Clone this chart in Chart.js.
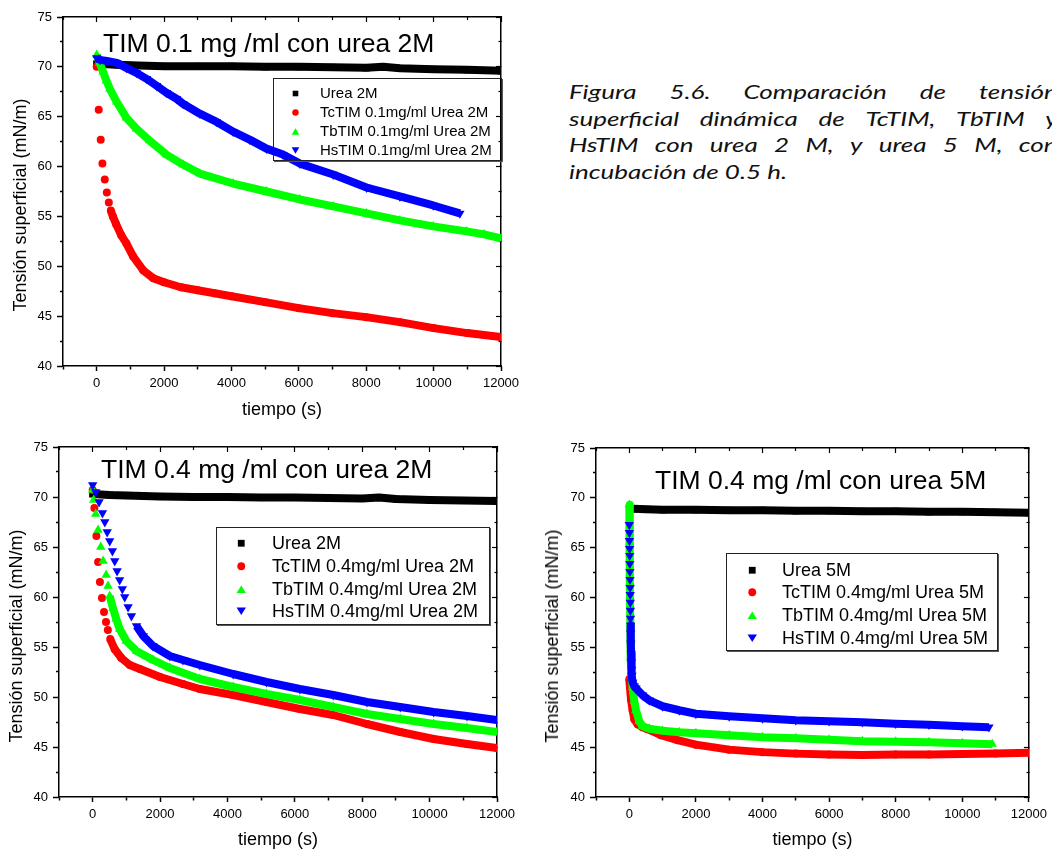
<!DOCTYPE html>
<html>
<head>
<meta charset="utf-8">
<script src="https://cdn.jsdelivr.net/npm/chart.js@4.4.1/dist/chart.umd.min.js"></script>
<style>
html,body{margin:0;padding:0;background:#fff;}
body{width:1052px;height:850px;overflow:hidden;position:relative;font-family:"Liberation Sans",Arial,Helvetica,sans-serif;color:#000;}
canvas{position:absolute;}
.ttl{position:absolute;font-size:26.5px;line-height:26px;white-space:nowrap;}
.ylab{position:absolute;font-size:18px;line-height:18px;white-space:nowrap;transform:translate(-50%,-50%) rotate(-90deg);}
.leg{position:absolute;border:1px solid #222;box-shadow:1px 1px 0 #555;box-sizing:border-box;}
.row{position:absolute;left:0;white-space:nowrap;}
.row svg{position:absolute;}
.row span{position:absolute;}
.cap{position:absolute;left:569px;font-family:Lato,"Open Sans",sans-serif;font-style:italic;font-weight:400;font-size:20px;line-height:26.67px;height:26.67px;white-space:nowrap;transform-origin:0 0;transform:scaleX(1.3);color:#111;}
.flex{display:flex;justify-content:space-between;width:376px;}
</style>
</head>
<body>

<div class="cap flex" style="top:78px"><span>Figura</span><span>5.6.</span><span>Comparación</span><span>de</span><span>tensión</span></div>
<div class="cap flex" style="top:104.7px"><span>superficial</span><span>dinámica</span><span>de</span><span>TcTIM,</span><span>TbTIM</span><span>y</span></div>
<div class="cap flex" style="top:131.3px"><span>HsTIM</span><span>con</span><span>urea</span><span>2</span><span>M,</span><span>y</span><span>urea</span><span>5</span><span>M,</span><span>con</span></div>
<div class="cap" style="top:158px">incubación de 0.5 h.</div>

<canvas id="c1" width="530" height="425" style="left:0;top:0"></canvas>
<canvas id="c2" width="530" height="425" style="left:0;top:430px"></canvas>
<canvas id="c3" width="522" height="425" style="left:530px;top:430px"></canvas>

<div class="ttl" style="left:103px;top:29.8px">TIM 0.1 mg /ml con urea 2M</div>
<div class="ttl" style="left:101px;top:455.8px">TIM 0.4 mg /ml con urea 2M</div>
<div class="ttl" style="left:655px;top:466.8px">TIM 0.4 mg /ml con urea 5M</div>

<div class="ylab" style="left:20px;top:205px">Tensión superficial (mN/m)</div>
<div class="ylab" style="left:15.5px;top:636px">Tensión superficial (mN/m)</div>
<div class="ylab" style="left:551.5px;top:636px">Tensión superficial (mN/m)</div>

<script>
// ---------------- DATA ----------------
const xTickLabels = [0, 2000, 4000, 6000, 8000, 10000, 12000];
const yTickLabels = [40, 45, 50, 55, 60, 65, 70, 75];
const xTitle = 'tiempo (s)';

// Chart 1: TIM 0.1 mg/ml con urea 2M
const c1_labels = ['Urea 2M', 'TcTIM 0.1mg/ml Urea 2M', 'TbTIM 0.1mg/ml Urea 2M', 'HsTIM 0.1mg/ml Urea 2M'];
const c1_urea_t = [0, 300, 600, 1000, 2000, 3000, 4000, 5000, 6000, 7000, 8000, 8500, 9000, 10000, 11000, 12000];
const c1_urea_v = [70.3, 70.25, 70.2, 70.15, 70.05, 70.05, 70.05, 70.0, 70.0, 69.95, 69.9, 70.0, 69.85, 69.75, 69.7, 69.6];
const c1_tc_t = [0, 60, 120, 170, 240, 300, 360, 420, 480, 580, 730, 880, 1080, 1380, 1680, 2000, 2500, 3000, 3500, 4000, 5000, 6000, 7000, 8000, 9000, 10000, 11000, 12000];
const c1_tc_v = [70.0, 65.7, 62.7, 60.3, 58.7, 57.4, 56.4, 55.6, 55.0, 54.2, 53.1, 52.3, 51.0, 49.6, 48.8, 48.4, 47.9, 47.6, 47.3, 47.0, 46.4, 45.8, 45.3, 44.9, 44.4, 43.8, 43.3, 42.9];
const c1_tb_t = [0, 90, 190, 290, 390, 590, 880, 1180, 1570, 2070, 2560, 3060, 4050, 5040, 6030, 7020, 8010, 9000, 9990, 10980, 11500, 12000];
const c1_tb_v = [71.2, 70.4, 69.5, 68.6, 67.8, 66.5, 64.9, 63.8, 62.6, 61.2, 60.2, 59.3, 58.3, 57.5, 56.7, 56.0, 55.3, 54.6, 54.0, 53.5, 53.2, 52.8];
const c1_hs_t = [0, 100, 300, 600, 880, 1180, 1480, 1780, 2070, 2370, 2560, 3060, 3550, 4050, 4540, 5040, 5530, 6030, 7020, 8010, 9000, 9990, 10780];
const c1_hs_v = [70.9, 70.7, 70.6, 70.4, 69.9, 69.4, 68.8, 68.1, 67.4, 66.8, 66.3, 65.3, 64.5, 63.5, 62.7, 61.8, 61.2, 60.3, 59.2, 57.9, 57.0, 56.1, 55.3];

// Chart 2: TIM 0.4 mg/ml con urea 2M
const c2_labels = ['Urea 2M', 'TcTIM 0.4mg/ml Urea 2M', 'TbTIM 0.4mg/ml Urea 2M', 'HsTIM 0.4mg/ml Urea 2M'];
const c2_urea_t = [0, 500, 1000, 2000, 3000, 4000, 5000, 6000, 7000, 8000, 8500, 9000, 10000, 11000, 12000];
const c2_urea_v = [70.3, 70.2, 70.15, 70.05, 70.0, 70.0, 69.95, 69.95, 69.9, 69.85, 69.95, 69.8, 69.7, 69.65, 69.6];
const c2_tc_t = [0, 50, 110, 160, 215, 275, 335, 395, 450, 520, 650, 850, 1100, 1400, 2000, 2680, 3180, 4170, 5160, 6150, 7140, 8140, 9130, 10120, 11110, 12000];
const c2_tc_v = [70.7, 68.9, 66.1, 63.5, 61.5, 59.9, 58.5, 57.5, 56.7, 55.8, 54.8, 53.9, 53.2, 52.8, 52.0, 51.3, 50.8, 50.2, 49.5, 48.8, 48.2, 47.3, 46.5, 45.8, 45.3, 44.9];
const c2_tb_t = [0, 30, 90, 160, 240, 310, 400, 455, 505, 600, 700, 800, 1000, 1300, 1790, 2290, 3180, 4170, 5160, 6150, 7140, 8140, 9130, 10120, 11110, 12000];
const c2_tb_v = [70.7, 69.7, 68.3, 66.7, 65.0, 63.6, 62.2, 61.1, 60.1, 58.9, 57.8, 56.8, 55.6, 54.6, 53.7, 52.9, 51.8, 51.0, 50.3, 49.7, 49.0, 48.3, 47.8, 47.3, 46.9, 46.5];
const c2_hs_t = [0, 90, 190, 290, 360, 430, 505, 585, 655, 725, 800, 880, 950, 1050, 1150, 1300, 1500, 1790, 2290, 2680, 3180, 4170, 5160, 6150, 7140, 8140, 9130, 10120, 11110, 12000];
const c2_hs_v = [71.2, 70.5, 69.5, 68.4, 67.5, 66.5, 65.6, 64.6, 63.6, 62.6, 61.7, 60.8, 60.0, 59.0, 58.1, 57.1, 56.1, 55.1, 54.1, 53.7, 53.2, 52.3, 51.5, 50.8, 50.2, 49.5, 49.0, 48.5, 48.1, 47.7];

// Chart 3: TIM 0.4 mg/ml con urea 5M
const c3_labels = ['Urea 5M', 'TcTIM 0.4mg/ml Urea 5M', 'TbTIM 0.4mg/ml Urea 5M', 'HsTIM 0.4mg/ml Urea 5M'];
const c3_urea_t = [130, 500, 1000, 2000, 3000, 4000, 5000, 6000, 7000, 8000, 9000, 10000, 11000, 12000];
const c3_urea_v = [68.9, 68.85, 68.8, 68.8, 68.75, 68.75, 68.7, 68.7, 68.65, 68.65, 68.6, 68.6, 68.55, 68.5];
const c3_tc_t = [0, 20, 50, 100, 150, 250, 400, 550, 950, 1450, 2000, 3000, 4000, 5000, 6000, 7000, 8000, 9000, 10000, 11000, 12000];
const c3_tc_v = [51.8, 51.0, 49.8, 48.7, 47.8, 47.3, 47.0, 46.8, 46.2, 45.7, 45.25, 44.75, 44.5, 44.35, 44.25, 44.2, 44.25, 44.25, 44.3, 44.35, 44.45];
const c3_tb_t = [0, 10, 20, 30, 40, 60, 100, 150, 200, 300, 400, 600, 1000, 1500, 2000, 3000, 4000, 5000, 6000, 7000, 8000, 9000, 10000, 10900];
const c3_tb_v = [69.3, 65.5, 61.5, 57.5, 54.0, 52.5, 51.0, 49.6, 48.7, 47.6, 47.1, 46.85, 46.65, 46.5, 46.4, 46.2, 46.0, 45.9, 45.75, 45.6, 45.55, 45.5, 45.4, 45.3];
const c3_hs_t = [0, 3, 6, 9, 12, 15, 18, 21, 24, 27, 30, 33, 36, 39, 42, 48, 54, 60, 70, 80, 100, 150, 200, 400, 600, 1000, 1500, 2000, 3000, 4000, 5000, 6000, 7000, 8000, 9000, 10000, 10800];
const c3_hs_v = [67.3, 66.5, 65.7, 64.9, 64.2, 63.4, 62.6, 61.8, 61.0, 60.3, 59.5, 58.7, 57.9, 57.2, 56.4, 55.4, 54.4, 53.5, 52.8, 52.2, 51.5, 51.1, 50.9, 50.2, 49.7, 49.1, 48.7, 48.35, 48.1, 47.9, 47.7, 47.6, 47.5, 47.35, 47.25, 47.1, 47.0];

// ---------------- STYLE ----------------
const FONT = '"Liberation Sans", Arial, Helvetica, sans-serif';
const COLORS = ['#000000', '#ff0000', '#00ff00', '#0000ff'];
const STYLES = [
  {name: 'rect', rot: 0, r: 5.0},
  {name: 'circle', rot: 0, r: 4.0},
  {name: 'triangle', rot: 0, r: 5.4},
  {name: 'triangle', rot: 180, r: 5.4}
];

function dataset(i, label, t, v, sep) {
  return {
    label,
    data: t.map((x, k) => ({x, y: v[k]})),
    xAxisID: 'x', yAxisID: 'y',
    showLine: true,
    borderColor: COLORS[i],
    backgroundColor: COLORS[i],
    borderWidth: 8,
    borderJoinStyle: 'round',
    tension: 0,
    pointStyle: STYLES[i].name,
    pointRotation: STYLES[i].rot,
    pointRadius: STYLES[i].r,
    pointHoverRadius: STYLES[i].r,
    pointBorderWidth: 0,
    pointBackgroundColor: COLORS[i],
    order: 4 - i,
    segment: {borderColor: ctx => (ctx.p1DataIndex <= sep ? 'rgba(0,0,0,0)' : undefined)}
  };
}

function makeChart(id, datasets, lay) {
  const tickFont = {family: FONT, size: 13};
  const majX = c => c.tick && xTickLabels.includes(c.tick.value);
  const majY = c => c.tick && yTickLabels.includes(c.tick.value);
  new Chart(document.getElementById(id), {
    type: 'scatter',
    data: {datasets},
    options: {
      responsive: false, animation: false, devicePixelRatio: 1, events: [],
      layout: {padding: {left: 0, top: lay.top, right: lay.right, bottom: 0}},
      plugins: {legend: {display: false}, tooltip: {enabled: false}},
      scales: {
        x: {
          type: 'linear', position: 'bottom', min: -1000, max: 12000,
          afterFit: s => { s.height = lay.xH; },
          border: {display: true, color: '#000', width: 1.5},
          grid: {drawOnChartArea: false, drawTicks: true, tickLength: 5, color: '#000', tickColor: '#000', tickWidth: 1.5,
                 tickBorderDash: c => (majX(c) ? [] : [3, 100])},
          ticks: {stepSize: 1000, autoSkip: false, maxRotation: 0, padding: 5, color: '#000', font: tickFont,
                  callback: v => (xTickLabels.includes(v) ? String(v) : '')},
          title: {display: true, text: xTitle, color: '#000', font: {family: FONT, size: 18}, padding: {top: 0, bottom: 4}}
        },
        x2: {
          type: 'linear', position: 'top', min: -1000, max: 12000,
          afterFit: s => { s.height = 0; },
          border: {display: true, color: '#000', width: 1.5},
          grid: {drawOnChartArea: false, drawTicks: true, tickLength: -5, color: '#000', tickWidth: 1.2,
                 tickBorderDash: c => (majX(c) ? [] : [0, 2, 3, 100])},
          ticks: {display: false, stepSize: 1000, autoSkip: false}
        },
        y: {
          type: 'linear', position: 'left', min: 40, max: 75,
          afterFit: s => { s.width = lay.yW; },
          border: {display: true, color: '#000', width: 1.5},
          grid: {drawOnChartArea: false, drawTicks: true, tickLength: 6, color: '#000', tickWidth: 1.5,
                 tickBorderDash: c => (majY(c) ? [] : [0, 3, 3, 100])},
          ticks: {stepSize: 2.5, autoSkip: false, padding: 5, color: '#000', font: tickFont,
                  callback: v => (yTickLabels.includes(v) ? String(v) : '')}
        },
        y2: {
          type: 'linear', position: 'right', min: 40, max: 75,
          afterFit: s => { s.width = 0; },
          border: {display: true, color: '#000', width: 1.5},
          grid: {drawOnChartArea: false, drawTicks: true, tickLength: -5, color: '#000', tickWidth: 1.2,
                 tickBorderDash: c => (majY(c) ? [] : [3, 100])},
          ticks: {display: false, stepSize: 2.5, autoSkip: false}
        }
      }
    }
  });
}

function markerShape(i, s, cx, cy) {
  const c = COLORS[i];
  if (i === 0) { const q = s * 0.8; return `<rect x="${cx - q / 2}" y="${cy - q / 2}" width="${q}" height="${q}" fill="${c}"/>`; }
  if (i === 1) { return `<circle cx="${cx}" cy="${cy}" r="${s * 0.46}" fill="${c}"/>`; }
  const hw = s * 0.55, hh = s * 0.45;
  if (i === 2) { return `<polygon points="${cx},${cy - hh} ${cx + hw},${cy + hh} ${cx - hw},${cy + hh}" fill="${c}"/>`; }
  return `<polygon points="${cx - hw},${cy - hh} ${cx + hw},${cy - hh} ${cx},${cy + hh}" fill="${c}"/>`;
}

function makeLegend(labels, spec) {
  const box = document.createElement('div');
  box.className = 'leg';
  Object.assign(box.style, {left: spec.left + 'px', top: spec.top + 'px', width: spec.w + 'px', height: spec.h + 'px'});
  labels.forEach((lab, i) => {
    const row = document.createElement('div');
    row.className = 'row';
    const lh = spec.font * 1.25;
    Object.assign(row.style, {top: (spec.rows[i] - lh / 2 - 1) + 'px', height: lh + 'px', width: '100%'});
    const w = spec.ms + 2;
    row.innerHTML = `<svg style="left:${spec.mx - w / 2 - 1}px;top:${lh / 2 - w / 2}px" width="${w}" height="${w}">${markerShape(i, spec.ms, w / 2, w / 2)}</svg>` +
      `<span style="left:${spec.tx - 1}px;top:0;font-size:${spec.font}px;line-height:${lh}px">${lab}</span>`;
    box.appendChild(row);
  });
  document.body.appendChild(box);
}

// ---------------- BUILD ----------------
makeChart('c1', [
  dataset(0, c1_labels[0], c1_urea_t, c1_urea_v, 0),
  dataset(1, c1_labels[1], c1_tc_t, c1_tc_v, 7),
  dataset(2, c1_labels[2], c1_tb_t, c1_tb_v, 0),
  dataset(3, c1_labels[3], c1_hs_t, c1_hs_v, 0)
], {top: 17, right: 29, yW: 63, xH: 59});

makeChart('c2', [
  dataset(0, c2_labels[0], c2_urea_t, c2_urea_v, 0),
  dataset(1, c2_labels[1], c2_tc_t, c2_tc_v, 9),
  dataset(2, c2_labels[2], c2_tb_t, c2_tb_v, 8),
  dataset(3, c2_labels[3], c2_hs_t, c2_hs_v, 15)
], {top: 17, right: 33, yW: 59, xH: 58});

makeChart('c3', [
  dataset(0, c3_labels[0], c3_urea_t, c3_urea_v, 0),
  dataset(1, c3_labels[1], c3_tc_t, c3_tc_v, 0),
  dataset(2, c3_labels[2], c3_tb_t, c3_tb_v, 0),
  dataset(3, c3_labels[3], c3_hs_t, c3_hs_v, 13)
], {top: 18, right: 19, yW: 66, xH: 58});

makeLegend(c1_labels, {left: 273, top: 78, w: 229, h: 83, rows: [15, 34, 53, 72], mx: 22, tx: 47, font: 15, ms: 7});
makeLegend(c2_labels, {left: 216, top: 527, w: 274, h: 98, rows: [16, 39, 62, 84], mx: 25, tx: 56, font: 18, ms: 8.5});
makeLegend(c3_labels, {left: 726, top: 553, w: 272, h: 98, rows: [17, 39, 62, 85], mx: 26, tx: 56, font: 18, ms: 8.5});
</script>
</body>
</html>
